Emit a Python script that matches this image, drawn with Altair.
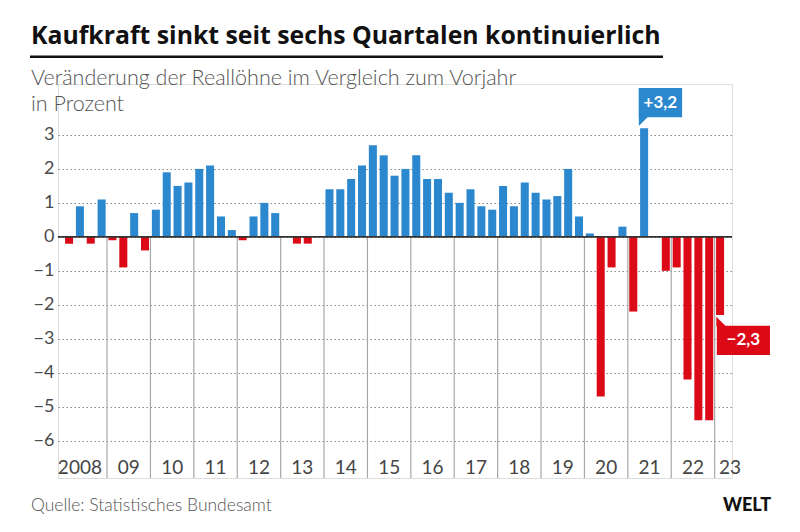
import altair as alt
import pandas as pd

# ---------------- data ----------------
year_labels = ["2008", "09", "10", "11", "12", "13", "14", "15", "16",
               "17", "18", "19", "20", "21", "22", "23"]
# quarterly change of real wages vs. previous year, in percent (2008 Q1 .. 2023 Q1)
values = [
    -0.2, 0.9, -0.2, 1.1,    # 2008
    -0.1, -0.9, 0.7, -0.4,   # 2009
    0.8, 1.9, 1.5, 1.6,      # 2010
    2.0, 2.1, 0.6, 0.2,      # 2011
    -0.1, 0.6, 1.0, 0.7,     # 2012
    0.0, -0.2, -0.2, 0.0,    # 2013
    1.4, 1.4, 1.7, 2.1,      # 2014
    2.7, 2.4, 1.8, 2.0,      # 2015
    2.4, 1.7, 1.7, 1.3,      # 2016
    1.0, 1.4, 0.9, 0.8,      # 2017
    1.5, 0.9, 1.6, 1.3,      # 2018
    1.1, 1.2, 2.0, 0.6,      # 2019
    0.1, -4.7, -0.9, 0.3,    # 2020
    -2.2, 3.2, 0.0, -1.0,    # 2021
    -0.9, -4.2, -5.4, -5.4,  # 2022
    -2.3,                    # 2023
]
y_ticks = [-6, -5, -4, -3, -2, -1, 0, 1, 2, 3]

title_text = "Kaufkraft sinkt seit sechs Quartalen kontinuierlich"
subtitle_lines = ["Veränderung der Reallöhne im Vergleich zum Vorjahr", "in Prozent"]
source_text = "Quelle: Statistisches Bundesamt"
logo_text = "WELT"

BLUE = "#2b88cf"
RED = "#dc0a17"
FONT = "Lato"
TFONT = "Open Sans"

n = len(values)
df = pd.DataFrame({
    "t": list(range(n)),
    "value": values,
    "sign": ["pos" if v >= 0 else "neg" for v in values],
})
df = df[df["value"] != 0]

sep_df = pd.DataFrame({"t": [4 * k for k in range(1, 16)]})
lab_pos = [4 * i + 2 for i in range(15)] + [61.42]
lab_pos[0] = 1.5
lab_df = pd.DataFrame({"label": year_labels, "t": lab_pos})

def fmt(v):
    s = f"{abs(v):.1f}".replace(".", ",")
    return ("+" if v > 0 else "\u2212") + s

i_max = values.index(max(values))
i_last = n - 1
call_df = pd.DataFrame({
    "x0": [i_max, i_last + 0.2],
    "x1": [i_max + 4.0, i_last + 5.1],
    "y0": [values[i_max] + 0.32, values[i_last] - 0.32],
    "y1": [values[i_max] + 1.18, values[i_last] - 1.18],
    "label": [fmt(values[i_max]), fmt(values[i_last])],
    "sign": ["pos", "neg"],
})
call_df["xm"] = (call_df["x0"] + call_df["x1"]) / 2
call_df["ym"] = (call_df["y0"] + call_df["y1"]) / 2

tail_df = pd.DataFrame({
    "t": [i_max + 0.45, i_last + 0.59],
    "y": [values[i_max] + 0.20, values[i_last] - 0.19],
    "sign": ["pos", "neg"],
    "shape": ["M-1,-1 L1,-1 L-1,1 Z", "M-1,-1 L-1,1 L1,1 Z"],
})

xs = alt.Scale(domain=[-0.52, 61.6], nice=False, zero=False)
ys = alt.Scale(domain=[-7.1, 4.5], nice=False, zero=False)
cs = alt.Scale(domain=["pos", "neg"], range=[BLUE, RED])

# grid / axis layer
axis_layer = alt.Chart(pd.DataFrame({"v": y_ticks})).mark_point(opacity=0).encode(
    x=alt.value(0),
    y=alt.Y("v:Q", scale=ys, axis=alt.Axis(
        values=y_ticks, title=None, domain=False, ticks=False,
        labelFontSize=18, labelColor="#4a4a4a", labelFont=FONT, labelPadding=4,
        grid=True, gridDash=[1.5, 2.5], gridColor="#8a8a8a", gridWidth=1.2,
    )),
)

seps = alt.Chart(sep_df).transform_calculate(y0="0", y1="-7.1").mark_rule(
    color="#a8a8a8", strokeWidth=1.2).encode(
    x=alt.X("t:Q", scale=xs, axis=None),
    y=alt.Y("y0:Q", scale=ys),
    y2="y1:Q",
)

bars = alt.Chart(df).transform_calculate(
    x0="datum.t + 0.13", x1="datum.t + 0.87", zero="0"
).mark_rect().encode(
    x=alt.X("x0:Q", scale=xs, axis=None),
    x2="x1:Q",
    y=alt.Y("value:Q", scale=ys),
    y2="zero:Q",
    color=alt.Color("sign:N", scale=cs, legend=None),
)

zero_line = alt.Chart(pd.DataFrame({"y": [0]})).mark_rule(
    color="#333333", strokeWidth=1.6).encode(
    y=alt.Y("y:Q", scale=ys),
    x=alt.value(0), x2=alt.value(674),
)

year_text = alt.Chart(lab_df).transform_calculate(yy="-6.82").mark_text(
    fontSize=19, font=FONT, color="#444444", baseline="middle", align="center"
).encode(
    x=alt.X("t:Q", scale=xs),
    y=alt.Y("yy:Q", scale=ys),
    text="label:N",
)

boxes = alt.Chart(call_df).mark_rect().encode(
    x=alt.X("x0:Q", scale=xs), x2="x1:Q",
    y=alt.Y("y0:Q", scale=ys), y2="y1:Q",
    color=alt.Color("sign:N", scale=cs, legend=None),
)
box_text = alt.Chart(call_df).mark_text(
    fontSize=17, fontWeight="bold", font=FONT, color="white", baseline="middle", align="center"
).encode(
    x=alt.X("xm:Q", scale=xs), y=alt.Y("ym:Q", scale=ys), text="label:N",
)
tails = alt.Chart(tail_df).mark_point(filled=True, opacity=1, size=90, strokeWidth=0).encode(
    x=alt.X("t:Q", scale=xs), y=alt.Y("y:Q", scale=ys),
    shape=alt.Shape("shape:N", scale=None, legend=None),
    color=alt.Color("sign:N", scale=cs, legend=None),
)

def txt(s, x, y, font=FONT, **kw):
    return alt.Chart(pd.DataFrame({"s": [s]})).mark_text(font=font, **kw).encode(
        x=alt.value(x), y=alt.value(y), text="s:N")

title = txt(title_text, -27, -40.5, font=TFONT, fontSize=24.8, fontWeight="bold", color="#111111",
            align="left", baseline="alphabetic")
underline = alt.Chart(pd.DataFrame({"a": [0]})).mark_rule(color="#111111", strokeWidth=2.5).encode(
    x=alt.value(-28), x2=alt.value(605), y=alt.value(-27.3))
sub1 = txt(subtitle_lines[0], -27, 1.2, fontSize=21.5, fontWeight=300, color="#555555",
           align="left", baseline="alphabetic")
sub2 = txt(subtitle_lines[1], -27, 27.3, fontSize=21.5, fontWeight=300, color="#555555",
           align="left", baseline="alphabetic")
source = txt(source_text, -27, 427, fontSize=17.5, fontWeight=300, color="#555555",
             align="left", baseline="alphabetic")
logo = txt(logo_text, 713, 427, fontSize=18, fontWeight=900, color="#111111", align="right",
           baseline="alphabetic")

chart = alt.layer(
    axis_layer, seps, bars, zero_line, year_text, boxes, tails, box_text,
    title, underline, sub1, sub2, source, logo,
).properties(
    width=674, height=394,
    autosize=alt.AutoSizeParams(type="none"),
    padding={"left": 50, "top": 76, "right": 60, "bottom": 46},
).configure_view(stroke=None).configure(background="white")

chart.save("out.html", embed_options={"renderer": "svg", "actions": False})
